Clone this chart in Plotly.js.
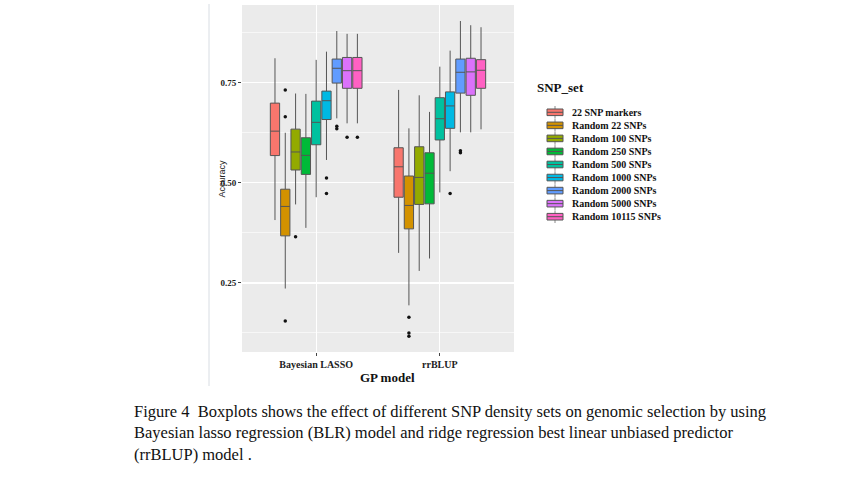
<!DOCTYPE html>
<html>
<head>
<meta charset="utf-8">
<script src="https://cdn.plot.ly/plotly-3.0.1.min.js"></script>
<style>html,body{margin:0;padding:0;background:#fff;}#chart{width:865px;height:487px;}</style>
</head>
<body>
<div id="chart"></div>
<script>
// ---- data ----
const models = ['Bayesian LASSO', 'rrBLUP'];
const snpSets = ['22 SNP markers', 'Random 22 SNPs', 'Random 100 SNPs', 'Random 250 SNPs',
  'Random 500 SNPs', 'Random 1000 SNPs', 'Random 2000 SNPs', 'Random 5000 SNPs', 'Random 10115 SNPs'];
const setColors = ['#F8766D', '#D39200', '#93AA00', '#00BA38', '#00C19F', '#00B9E3', '#619CFF', '#DB72FB', '#FF61C3'];

// per SNP set: [Bayesian LASSO, rrBLUP]
const lowerWhisker = [[0.407, 0.325], [0.236, 0.194], [0.446, 0.280], [0.3875, 0.311], [0.464, 0.476],
  [0.557, 0.529], [0.661, 0.626], [0.6485, 0.626], [0.6485, 0.6335]];
const q1Vals = [[0.568, 0.464], [0.3675, 0.385], [0.532, 0.446], [0.521, 0.4475], [0.595, 0.607],
  [0.658, 0.636], [0.749, 0.724], [0.736, 0.7185], [0.736, 0.736]];
const medianVals = [[0.629, 0.540], [0.441, 0.4435], [0.577, 0.5135], [0.5685, 0.524], [0.651, 0.660],
  [0.705, 0.692], [0.786, 0.776], [0.780, 0.777], [0.780, 0.781]];
const q3Vals = [[0.699, 0.5875], [0.484, 0.517], [0.634, 0.590], [0.6125, 0.575], [0.704, 0.7125],
  [0.729, 0.727], [0.809, 0.809], [0.813, 0.811], [0.813, 0.8075]];
const upperWhisker = [[0.811, 0.732], [0.625, 0.636], [0.723, 0.7185], [0.722, 0.677], [0.807, 0.790],
  [0.8275, 0.830], [0.879, 0.904], [0.872, 0.8935], [0.872, 0.8885]];
const outlierVals = [
  [[], []],
  [[0.732, 0.665, 0.155], [0.164, 0.125, 0.117]],
  [[0.365], []],
  [[], []],
  [[], []],
  [[0.512, 0.473], [0.4735]],
  [[0.641, 0.635], [0.580, 0.575]],
  [[0.6135], []],
  [[0.6135], []]
];
const yTicks = [0.25, 0.50, 0.75];
const yTickText = ['0.25', '0.50', '0.75'];

// ---- layout geometry ----
const W = 865, H = 487;
const L = 242, R = 514, T = 5, B = 352;
const px2x = p => (p - L) / (R - L);
const py2y = p => (B - p) / (B - T);
const dodge = 0.75, nSets = snpSets.length, slot = dodge / nSets;
const serif = 'Liberation Serif, Times New Roman, serif';

const traces = [];
snpSets.forEach((name, i) => {
  const off = (i - (nSets - 1) / 2) * slot;
  const xs = models.map((m, g) => g + 1 + off);
  traces.push({
    type: 'box', name: name, x: xs,
    q1: q1Vals[i], median: medianVals[i], q3: q3Vals[i],
    lowerfence: lowerWhisker[i], upperfence: upperWhisker[i],
    width: slot * 0.9, whiskerwidth: 0,
    fillcolor: setColors[i], line: {color: '#555555', width: 1},
    boxpoints: false, showlegend: false, hoverinfo: 'skip'
  });
  const ox = [], oy = [];
  models.forEach((m, g) => outlierVals[i][g].forEach(v => { ox.push(g + 1 + off); oy.push(v); }));
  if (ox.length) traces.push({
    type: 'scatter', mode: 'markers', x: ox, y: oy, showlegend: false, hoverinfo: 'skip',
    marker: {color: '#111111', size: 3.5}
  });
});

// custom legend
const shapes = [{type: 'line', xref: 'paper', yref: 'paper', x0: px2x(209), x1: px2x(209), y0: py2y(4), y1: py2y(386),
  line: {color: '#d8dde3', width: 1}}];
const annotations = [];
const legX0 = 547, legX1 = 563, legY0 = 112.3, legDY = 13.05;
annotations.push({xref: 'paper', yref: 'paper', x: px2x(535), y: py2y(87), xanchor: 'left', yanchor: 'middle',
  text: '<b>SNP_set</b>', showarrow: false, font: {family: serif, size: 13, color: '#111'}});
snpSets.forEach((name, i) => {
  const cy = legY0 + i * legDY;
  const cx = (legX0 + legX1) / 2;
  shapes.push({type: 'line', xref: 'paper', yref: 'paper', x0: px2x(cx), x1: px2x(cx),
    y0: py2y(cy - 6.3), y1: py2y(cy + 6.3), line: {color: '#8a8a8a', width: 1}});
  shapes.push({type: 'rect', xref: 'paper', yref: 'paper', x0: px2x(legX0), x1: px2x(legX1),
    y0: py2y(cy - 3.3), y1: py2y(cy + 3.3), fillcolor: setColors[i], line: {color: '#555555', width: 1}});
  shapes.push({type: 'line', xref: 'paper', yref: 'paper', x0: px2x(legX0), x1: px2x(legX1),
    y0: py2y(cy), y1: py2y(cy), line: {color: '#555555', width: 1}});
  annotations.push({xref: 'paper', yref: 'paper', x: px2x(570), y: py2y(cy), xanchor: 'left', yanchor: 'middle',
    text: '<b>' + name + '</b>', showarrow: false, font: {family: serif, size: 10, color: '#111'}});
});

annotations.push({xref: 'paper', yref: 'paper', x: px2x(214.5), y: py2y(179), textangle: -90,
  text: 'Accuracy', showarrow: false, font: {family: 'Liberation Sans, Arial, sans-serif', size: 9, color: '#222'}});
annotations.push({xref: 'paper', yref: 'paper', x: px2x(387), y: py2y(377), xanchor: 'center', yanchor: 'middle',
  text: '<b>GP model</b>', showarrow: false, font: {family: serif, size: 13, color: '#111'}});
annotations.push({xref: 'paper', yref: 'paper', x: px2x(132), y: py2y(400), xanchor: 'left', yanchor: 'top', align: 'left',
  text: 'Figure 4  Boxplots shows the effect of different SNP density sets on genomic selection by using<br>' +
        'Bayesian lasso regression (BLR) model and ridge regression best linear unbiased predictor<br>' +
        '(rrBLUP) model .',
  showarrow: false, font: {family: serif, size: 16.5, color: '#111'}});

const layout = {
  width: W, height: H,
  margin: {l: L, r: W - R, t: T, b: H - B, pad: 0},
  paper_bgcolor: '#ffffff', plot_bgcolor: '#EBEBEB',
  showlegend: false,
  xaxis: {
    range: [0.4, 2.6], tickvals: [1, 2], ticktext: models, showgrid: true, gridcolor: '#ffffff', gridwidth: 1.2,
    zeroline: false, showline: false, ticks: 'outside', ticklen: 3, tickcolor: '#444', tickwidth: 1,
    tickfont: {family: serif, size: 10, color: '#222', weight: 'bold'}
  },
  yaxis: {
    range: [0.0775, 0.944], tickvals: yTicks, ticktext: yTickText, showgrid: true, gridcolor: '#ffffff', gridwidth: 1.2,
    zeroline: false, showline: false, ticks: 'outside', ticklen: 3, tickcolor: '#444', tickwidth: 1,
    tickfont: {family: serif, size: 9, color: '#222', weight: 'bold'},
    minor: {tickvals: [0.125, 0.375, 0.625, 0.875], showgrid: true, gridcolor: '#ffffff', gridwidth: 0.6, ticks: ''}
  },
  shapes: shapes,
  annotations: annotations
};

Plotly.newPlot('chart', traces, layout, {staticPlot: true, displayModeBar: false});
</script>
</body>
</html>
